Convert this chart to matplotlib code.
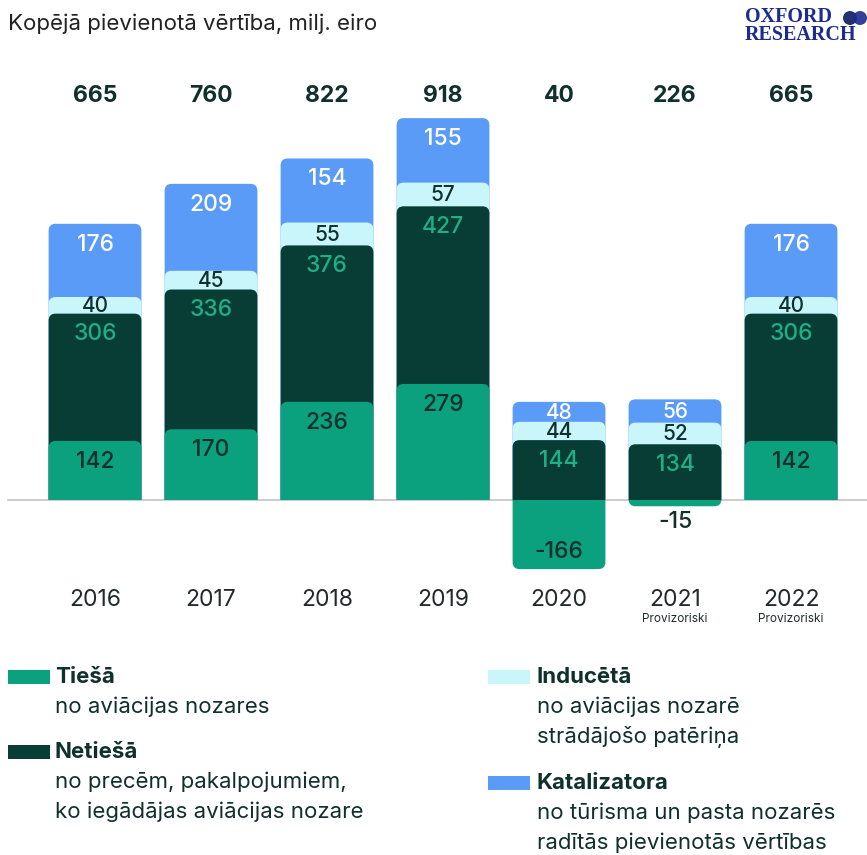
import matplotlib
matplotlib.use("Agg")
import matplotlib.pyplot as plt
from matplotlib.patches import FancyBboxPatch, Rectangle, Ellipse
import numpy as np

plt.rcParams['font.family'] = ['Inter', 'DejaVu Sans']

years = ["2016", "2017", "2018", "2019", "2020", "2021", "2022"]
notes = ["", "", "", "", "", "Provizoriski", "Provizoriski"]
totals = [665, 760, 822, 918, 40, 226, 665]
direct = [142, 170, 236, 279, -166, -15, 142]      # Tiešā
indirect = [306, 336, 376, 427, 144, 134, 306]    # Netiešā
induced = [40, 45, 55, 57, 44, 52, 40]            # Inducētā
catalytic = [176, 209, 154, 155, 48, 56, 176]     # Katalizatora

series_names = ["Tiešā", "Netiešā", "Inducētā", "Katalizatora"]
series_desc = ["no aviācijas nozares",
               "no precēm, pakalpojumiem,\nko iegādājas aviācijas nozare",
               "no aviācijas nozarē\nstrādājošo patēriņa",
               "no tūrisma un pasta nozarēs\nradītās pievienotās vērtības"]
colors = ["#0ba07e", "#073d34", "#c9f6fa", "#5b9bf8"]
label_colors = ["#10302c", "#1fae86", "#10302c", "#ffffff"]

W, H = 867, 855
fig = plt.figure(figsize=(W / 100, H / 100), dpi=100)
fig.patch.set_facecolor("white")

# axes placement in pixels
ax_top_px, ax_bot_px = 60, 640
ax = fig.add_axes([0, 1 - ax_bot_px / H, 1, (ax_bot_px - ax_top_px) / H])
ax.set_xlim(-0.819, 6.655)
ax.set_ylim(-336.5, 1057.7)
ax.axis("off")

xr = 6.655 + 0.819
yr = 1057.7 + 336.5
ux = xr / W
uy = yr / (ax_bot_px - ax_top_px)
aspect = uy / ux

bw = 0.8
rad = 7 * ux
ext = 40 * uy

x = np.arange(len(years))

# zero line
ax.plot([-0.75, 6.655], [0, 0], color="#c4c4c4", lw=1.2, zorder=0.5)

pos_clip = Rectangle((-1, 0), 10, 5000, transform=ax.transData)
neg_clip = Rectangle((-1, -5000), 10, 5000, transform=ax.transData)

def rbox(xc, y0, y1, color, clip, z):
    p = FancyBboxPatch((xc - bw / 2, y0), bw, y1 - y0,
                       boxstyle=f"round,pad=0,rounding_size={rad}",
                       mutation_aspect=aspect, facecolor=color,
                       edgecolor="none", zorder=z)
    ax.add_patch(p)
    p.set_clip_path(clip)

for i in range(len(years)):
    vals = [direct[i], indirect[i], induced[i], catalytic[i]]
    bottoms = []
    tops = []
    base = 0
    for v in vals:
        if v >= 0:
            bottoms.append(base)
            tops.append(base + v)
            base += v
        else:
            bottoms.append(v)
            tops.append(0)
    for k in [3, 2, 1, 0]:
        v = vals[k]
        if v >= 0:
            rbox(x[i], -ext, tops[k], colors[k], pos_clip, 2 + (3 - k))
        else:
            rbox(x[i], v, ext, colors[k], neg_clip, 2 + (3 - k))
    for k in range(4):
        v = vals[k]
        if v >= 0:
            h = v
            off = min(50, h / 2 + 2)
            ly = tops[k] - off
            col = label_colors[k]
            fs = 16.5 if h > 100 else 15
        else:
            if v < -60:
                ly = v + 40
                col = label_colors[k]
            else:
                ly = v - 38
                col = "#10302c"
            fs = 16.5
        ax.text(x[i], ly, str(v), ha="center", va="center", fontsize=fs,
                fontweight="medium", color=col, zorder=10)
    ax.text(x[i], 971, str(totals[i]), ha="center", va="center",
            fontsize=16.5, fontweight="bold", color="#10302c")
    ax.text(x[i], -240, years[i], ha="center", va="center", fontsize=16.5,
            color="#222a2a")
    if notes[i]:
        ax.text(x[i], -287, notes[i], ha="center", va="center", fontsize=8.5,
                color="#222a2a")

def fy(py):
    return 1 - py / H

def fx(px):
    return px / W

# title
fig.text(fx(8), fy(24), "Kopējā pievienotā vērtība, milj. eiro", ha="left",
         va="center", fontsize=16, color="#222222")

# logo
fig.text(fx(745), fy(7), "OXFORD\nRESEARCH", ha="left", va="top",
         fontsize=14.5, fontweight="bold", family="Liberation Serif",
         color="#1c2b8f", linespacing=0.85)
for cx, c in [(850, "#0d1a5e"), (860, "#1c2b8f")]:
    fig.patches.append(Ellipse((fx(cx), fy(18)), 14 / W, 14 / H,
                               transform=fig.transFigure, facecolor=c,
                               edgecolor="none", alpha=0.9))

# legend
legend_pos = [(8, 55, 677), (8, 55, 752), (488, 537, 677), (488, 537, 783)]
for k in range(4):
    px0, tx, py = legend_pos[k]
    fig.patches.append(Rectangle((fx(px0), fy(py + 7)), 42 / W, 14 / H,
                                 transform=fig.transFigure,
                                 facecolor=colors[k], edgecolor="none"))
    fig.text(fx(tx), fy(py), series_names[k], ha="left", va="center",
             fontsize=16, fontweight="bold", color="#10302c")
    lines = series_desc[k].split("\n")
    for j, ln in enumerate(lines):
        fig.text(fx(tx), fy(py + 30 + 30 * j), ln, ha="left", va="center",
                 fontsize=16, color="#10302c")

fig.savefig("out.png", dpi=100, facecolor="white")
